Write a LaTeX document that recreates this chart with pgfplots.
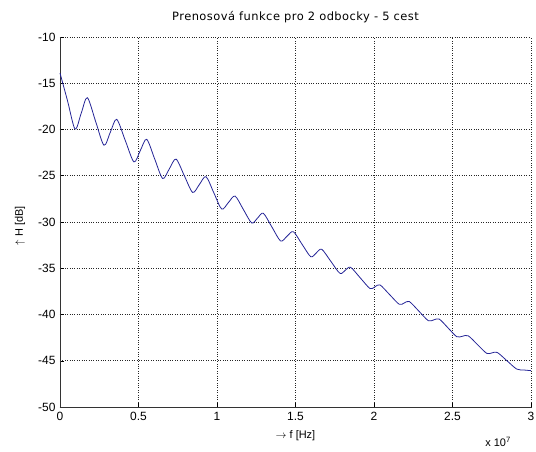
\documentclass[border=0pt]{standalone}
\usepackage{pgfplots}
\pgfplotsset{compat=1.18}
\usepackage{fontspec}
\setmainfont{Liberation Sans}
\newfontfamily\titlefont[LetterSpace=4]{DejaVu Sans}
\definecolor{mline}{RGB}{35,35,150}
\begin{document}
\begin{tikzpicture}
\useasboundingbox (-60bp,-45bp) rectangle (476bp,407bp);
\begin{axis}[
  at={(0,0)}, anchor=south west,
  scale only axis, width=471bp, height=370bp,
  xmin=0, xmax=3, ymin=-50, ymax=-10,
  axis lines=left, axis line style={-, black!80, line width=0.7pt},
  xtick={0,0.5,1,1.5,2,2.5,3},
  xticklabels={0,0.5,1,1.5,2,2.5,3},
  ytick={-50,-45,-40,-35,-30,-25,-20,-15,-10},
  yticklabels={-50,-45,-40,-35,-30,-25,-20,-15,-10},
  tick align=inside, major tick length=4bp,
  tick style={black, line width=0.5pt},
  grid=major, major grid style={black!85, dotted, line width=0.6pt},
  tick label style={font=\fontsize{12}{14}\selectfont},
  xticklabel style={yshift=-2bp},
  yticklabel style={xshift=-1bp},
  title={\titlefont Prenosová funkce pro 2 odbocky - 5 cest},
  title style={font=\fontsize{11.5}{13}\selectfont, at={(0.5,1)}, yshift=5bp},
  xlabel={$\rightarrow$ f [Hz]},
  label style={font=\fontsize{11}{13}\selectfont},
  xlabel style={yshift=-3bp},
  clip=false,
]
\addplot[mline, line width=0.8pt, smooth, tension=0.5] coordinates {
(0,-13.9) (0.048,-16.9) (0.096,-19.95) (0.135,-18.25) (0.174,-16.56)
(0.227,-19.13) (0.28,-21.7) (0.3205,-20.3) (0.361,-18.9)
(0.416,-21.2) (0.471,-23.5) (0.5115,-22.28) (0.552,-21.06)
(0.603,-23.18) (0.654,-25.3) (0.6965,-24.25) (0.739,-23.2)
(0.792,-25.0) (0.845,-26.8) (0.8875,-25.95) (0.93,-25.1)
(0.98,-26.85) (1.03,-28.6) (1.0725,-27.9) (1.115,-27.2)
(1.168,-28.65) (1.221,-30.1) (1.258,-29.58) (1.295,-29.06)
(1.35,-30.55) (1.405,-32.05) (1.4455,-31.55) (1.486,-31.05)
(1.5415,-32.4) (1.597,-33.75) (1.632,-33.35) (1.667,-32.95)
(1.725,-34.25) (1.783,-35.55) (1.817,-35.22) (1.851,-34.9)
(1.913,-36.05) (1.975,-37.2) (2.0065,-37.0) (2.038,-36.8)
(2.0995,-37.85) (2.161,-38.9) (2.193,-38.75) (2.225,-38.6)
(2.2855,-39.63) (2.346,-40.67) (2.381,-40.58) (2.416,-40.5)
(2.4715,-41.45) (2.527,-42.4) (2.5635,-42.35) (2.60,-42.3)
(2.659,-43.25) (2.718,-44.2) (2.7515,-44.15) (2.785,-44.1)
(2.847,-45.0) (2.909,-45.9) (2.955,-46.0) (3.0,-46.07)
};
\node[font=\fontsize{11}{13}\selectfont, anchor=north] at (rel axis cs:0.93,0) [yshift=-27bp] {x 10\textsuperscript{7}};
\node[font=\fontsize{11}{13}\selectfont, rotate=90, anchor=center] at ([xshift=-40bp]rel axis cs:0,0.49) {$\uparrow$ H [dB]};
\end{axis}
\end{tikzpicture}
\end{document}
